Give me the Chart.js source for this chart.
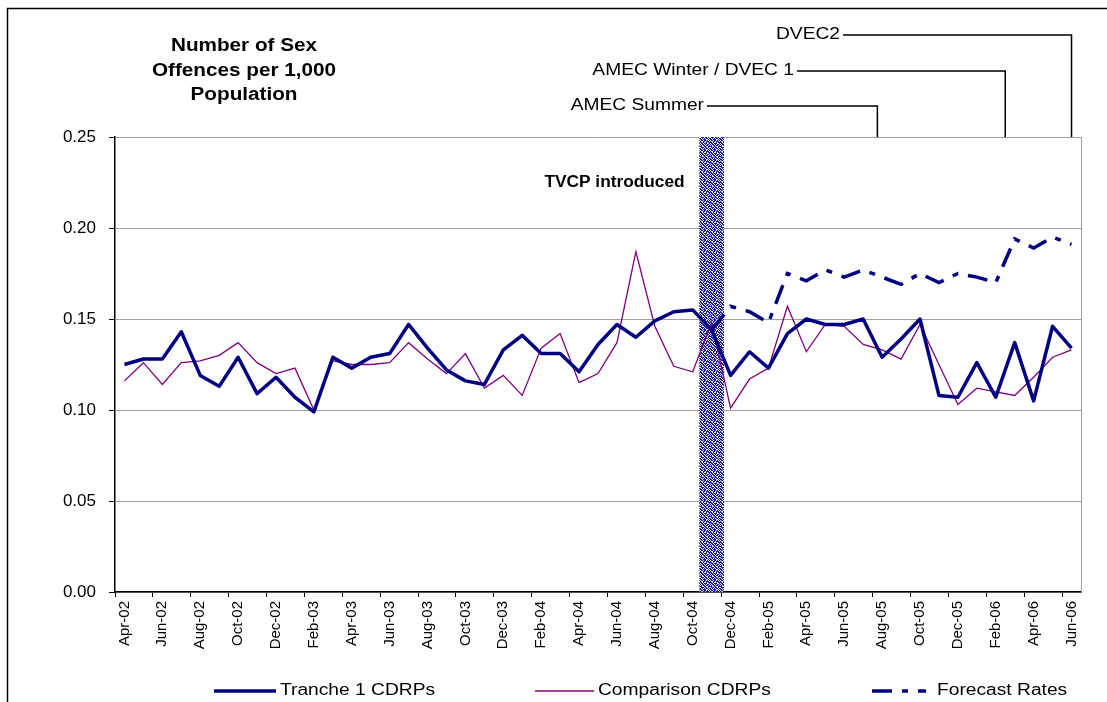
<!DOCTYPE html>
<html lang="en">
<head>
  <meta charset="UTF-8">
  <title>Number of Sex Offences per 1,000 Population</title>
  <script src="https://cdn.jsdelivr.net/npm/chart.js"></script>
  <style>
    html, body { margin: 0; padding: 0; background: #fff; }
    canvas { display: block; }
  </style>
</head>
<body>
  <canvas id="offencesChart" width="1107" height="702"></canvas>
  <script>
    const months = [
      'Apr-02', 'May-02', 'Jun-02', 'Jul-02', 'Aug-02', 'Sep-02', 'Oct-02', 'Nov-02', 'Dec-02',
      'Jan-03', 'Feb-03', 'Mar-03', 'Apr-03', 'May-03', 'Jun-03', 'Jul-03', 'Aug-03', 'Sep-03', 'Oct-03', 'Nov-03', 'Dec-03',
      'Jan-04', 'Feb-04', 'Mar-04', 'Apr-04', 'May-04', 'Jun-04', 'Jul-04', 'Aug-04', 'Sep-04', 'Oct-04', 'Nov-04', 'Dec-04',
      'Jan-05', 'Feb-05', 'Mar-05', 'Apr-05', 'May-05', 'Jun-05', 'Jul-05', 'Aug-05', 'Sep-05', 'Oct-05', 'Nov-05', 'Dec-05',
      'Jan-06', 'Feb-06', 'Mar-06', 'Apr-06', 'May-06', 'Jun-06'
    ];
    const tranche1 = [
      0.125, 0.128, 0.128, 0.143, 0.119, 0.113, 0.129, 0.109, 0.118,
      0.107, 0.099, 0.129, 0.123, 0.129, 0.131, 0.147, 0.134, 0.122, 0.116, 0.114, 0.133,
      0.141, 0.131, 0.131, 0.121, 0.136, 0.147, 0.140, 0.149, 0.154, 0.155, 0.144, 0.119,
      0.132, 0.123, 0.142, 0.150, 0.147, 0.147, 0.150, 0.129, 0.139, 0.150, 0.108, 0.107,
      0.126, 0.107, 0.137, 0.105, 0.146, 0.134
    ];
    const comparison = [
      0.116, 0.126, 0.114, 0.126, 0.127, 0.130, 0.137, 0.126, 0.120,
      0.123, 0.100, 0.127, 0.125, 0.125, 0.126, 0.137, 0.128, 0.120, 0.131, 0.112, 0.119,
      0.108, 0.134, 0.142, 0.115, 0.120, 0.137, 0.187, 0.146, 0.124, 0.121, 0.148, 0.101,
      0.117, 0.123, 0.157, 0.132, 0.147, 0.146, 0.136, 0.133, 0.128, 0.147, 0.125, 0.103,
      0.112, 0.110, 0.108, 0.118, 0.129, 0.133
    ];
    const forecast = [
      null, null, null, null, null, null, null, null, null,
      null, null, null, null, null, null, null, null, null, null, null, null,
      null, null, null, null, null, null, null, null, null, null, 0.144, 0.157,
      0.154, 0.148, 0.175, 0.171, 0.177, 0.173, 0.177, 0.173, 0.169, 0.175, 0.170, 0.175,
      0.173, 0.170, 0.194, 0.189, 0.195, 0.191
    ];
    const yTicks = [0, 0.05, 0.10, 0.15, 0.20, 0.25];
    const introducedAt = 'Nov-04';

    // milestone call-outs above the plot: label, month position (index), text row
    const milestones = [
      { label: 'DVEC2', at: 50, y: 35, lineFrom: 843 },
      { label: 'AMEC Winter / DVEC 1', at: 46.5, y: 71, lineFrom: 797 },
      { label: 'AMEC Summer', at: 39.75, y: 106, lineFrom: 707 }
    ];

    const FONT = '"Liberation Sans", Arial, Helvetica, sans-serif';
    const navy = '#000080';
    const purple = '#800080';
    const ctx = document.getElementById('offencesChart').getContext('2d');

    // speckled fill for the "TVCP introduced" band
    function speckle() {
      const rows = ['1001001010', '0110010001', '0010110100', '1001000110', '0100101001',
                    '1010010010', '0011001100', '1000100101', '0101010010', '0010001101'];
      const c = document.createElement('canvas');
      c.width = 10; c.height = 10;
      const g = c.getContext('2d');
      g.fillStyle = '#1e1e98';
      g.fillRect(0, 0, 10, 10);
      g.fillStyle = '#e8e8ff';
      rows.forEach((r, y) => [...r].forEach((b, x) => { if (b === '1') g.fillRect(x, y, 1, 1); }));
      return ctx.createPattern(c, 'repeat');
    }

    function stretchText(c, text, x, y, align, font, sx) {
      c.save();
      c.font = font;
      c.textAlign = align;
      c.textBaseline = 'middle';
      c.fillStyle = '#000';
      c.translate(x, y);
      c.scale(sx, 1);
      c.fillText(text, 0, 0);
      c.restore();
    }

    const decorations = {
      id: 'decorations',
      beforeDatasetsDraw(chart) {
        const { ctx: c, chartArea: a } = chart;
        c.save();
        c.strokeStyle = '#a0a0a0';
        c.lineWidth = 1;
        c.beginPath();
        c.moveTo(a.right + 0.5, a.top);
        c.lineTo(a.right + 0.5, a.bottom);
        c.stroke();
        c.restore();
      },
      afterDraw(chart) {
        const { ctx: c, chartArea: a, scales } = chart;
        const x = scales.x;

        // outer frame (top and left edge only)
        c.save();
        c.strokeStyle = '#000';
        c.lineWidth = 1.5;
        c.beginPath();
        c.moveTo(7.5, 702);
        c.lineTo(7.5, 8.5);
        c.lineTo(1107, 8.5);
        c.stroke();
        c.restore();

        // title
        const tFont = 'bold 18px ' + FONT;
        stretchText(c, 'Number of Sex', 244, 46, 'center', tFont, 1.15);
        stretchText(c, 'Offences per 1,000', 244, 71, 'center', tFont, 1.15);
        stretchText(c, 'Population', 244, 95, 'center', tFont, 1.15);

        // TVCP label
        const band = x.getPixelForValue(months.indexOf(introducedAt));
        stretchText(c, 'TVCP introduced', band - 27, 183, 'right', 'bold 16px ' + FONT, 1.08);

        // milestone call-outs
        milestones.forEach(m => {
          const px = x.getPixelForValue(m.at);
          stretchText(c, m.label, m.lineFrom - 3, m.y, 'right', '16px ' + FONT, 1.2);
          c.save();
          c.strokeStyle = '#000';
          c.lineWidth = 1.5;
          c.beginPath();
          c.moveTo(m.lineFrom, m.y);
          c.lineTo(px, m.y);
          c.lineTo(px, a.top);
          c.stroke();
          c.restore();
        });

        // legend
        const items = [
          { ds: chart.data.datasets[0], x: 214, w: 62 },
          { ds: chart.data.datasets[2], x: 535, w: 59 },
          { ds: chart.data.datasets[1], x: 872, w: 54 }
        ];
        const ly = 691;
        items.forEach(it => {
          c.save();
          c.strokeStyle = it.ds.borderColor;
          c.lineWidth = it.ds.borderWidth;
          c.setLineDash(it.ds.borderDash || []);
          c.beginPath();
          c.moveTo(it.x, ly);
          c.lineTo(it.x + it.w, ly);
          c.stroke();
          c.restore();
          stretchText(c, it.ds.label, it.x + it.w + (it.ds.borderDash ? 11 : 4), ly, 'left', '16px ' + FONT, 1.2);
        });
      }
    };

    new Chart(ctx, {
      type: 'line',
      data: {
        labels: months,
        datasets: [
          {
            label: 'Tranche 1 CDRPs',
            data: tranche1,
            borderColor: navy,
            borderWidth: 3.5,
            borderJoinStyle: 'round',
            pointRadius: 0,
            tension: 0,
            order: 1
          },
          {
            label: 'Forecast Rates',
            data: forecast,
            borderColor: navy,
            borderWidth: 3.5,
            borderDash: [20, 10, 6, 10],
            pointRadius: 0,
            tension: 0,
            order: 2
          },
          {
            label: 'Comparison CDRPs',
            data: comparison,
            borderColor: purple,
            borderWidth: 1.3,
            pointRadius: 0,
            tension: 0,
            order: 3
          },
          {
            type: 'bar',
            label: 'TVCP introduced',
            data: [{ x: introducedAt, y: 0.25 }],
            backgroundColor: speckle(),
            borderWidth: 0,
            barThickness: 24,
            order: 10
          }
        ]
      },
      options: {
        responsive: false,
        animation: false,
        layout: { padding: { top: 137, right: 26, left: 0, bottom: 0 } },
        plugins: {
          legend: { display: false },
          tooltip: { enabled: false }
        },
        scales: {
          x: {
            type: 'category',
            offset: true,
            grid: {
              offset: true,
              drawOnChartArea: false,
              tickLength: 5,
              tickWidth: 1,
              tickColor: c => (c.index % 2 === 0 ? '#000' : 'rgba(0,0,0,0)')
            },
            border: { color: '#000', width: 1.5 },
            ticks: {
              autoSkip: false,
              minRotation: 90,
              maxRotation: 90,
              padding: 4,
              color: '#000',
              font: { family: FONT, size: 15 },
              callback: (v, i) => (i % 2 === 0 ? months[i] : '')
            },
            afterFit: s => { s.height = 110; }
          },
          y: {
            min: 0,
            max: 0.25,
            afterBuildTicks: s => { s.ticks = yTicks.map(v => ({ value: v })); },
            grid: { color: '#a0a0a0', tickColor: '#000', tickLength: 6 },
            border: { color: '#000', width: 1.5 },
            ticks: {
              padding: 13,
              color: '#000',
              font: { family: FONT, size: 17 },
              callback: v => v.toFixed(2)
            },
            afterFit: s => { s.width = 115; }
          }
        }
      },
      plugins: [decorations]
    });
  </script>
</body>
</html>
